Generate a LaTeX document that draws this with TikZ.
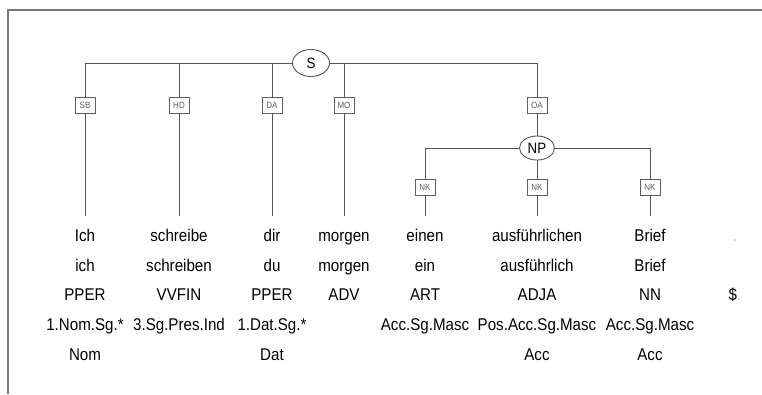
\documentclass[tikz,border=0pt]{standalone}
\usepackage{fontspec}
\setmainfont{Liberation Sans}[FakeStretch=0.89]
\usepackage{tikz}
\usetikzlibrary{shapes.geometric, positioning}
\definecolor{treegray}{RGB}{85,85,85}
\definecolor{framegray}{RGB}{120,120,120}
\definecolor{labgray}{RGB}{95,95,95}
\definecolor{dotgray}{RGB}{185,185,185}
\tikzset{
  catnode/.style={ellipse, draw=treegray, fill=white, line width=0.9pt,
    inner sep=1pt, font=\fontsize{15}{17}\selectfont},
  edgebox/.style={rectangle, draw=labgray, fill=white, line width=0.8pt,
    minimum width=20pt, minimum height=16pt, inner sep=1pt,
    text=labgray, font=\fontsize{9}{10}\selectfont},
  tok/.style={anchor=base, text height=12pt, text depth=3pt,
    font=\fontsize{17}{19}\selectfont},
  tree/.style={draw=treegray, line width=0.9pt},
  toword/.style={tree, shorten >=9pt},
  frameline/.style={draw=framegray, line width=1.3pt}
}

\begin{document}
\begin{tikzpicture}[x=1pt, y=-1pt]
  \useasboundingbox (0,0) rectangle (762,394);
  % frame (top and left only)
  \draw[frameline] (762,10) -- (8,10) -- (8,394);

  % --- Phrase nodes ---
  \node[catnode, minimum width=37pt, minimum height=27pt] (S) at (311,63) {S};
  \node[catnode, minimum width=35pt, minimum height=24pt] (NP) at (537,148) {NP};

  % --- Edge labels ---
  \node[edgebox] (e1) at (85,105) {SB};
  \node[edgebox] (e2) at (179,105) {HD};
  \node[edgebox] (e3) at (272,105) {DA};
  \node[edgebox] (e4) at (344,105) {MO};
  \node[edgebox] (e5) at (537,105) {OA};
  \node[edgebox] (e6) at (425,187) {NK};
  \node[edgebox] (e7) at (537,187) {NK};
  \node[edgebox] (e8) at (650,187) {NK};

  % --- Tokens ---
  % Ich
  \node[tok] (w1) at (85,241) {Ich};
  \node[tok] (l1) at (85,271) {ich};
  \node[tok] (p1) at (85,300) {PPER};
  \node[tok] (m1) at (85,330) {1.Nom.Sg.*};
  \node[tok] (c1) at (85,360) {Nom};

  % schreibe
  \node[tok] (w2) at (179,241) {schreibe};
  \node[tok] (l2) at (179,271) {schreiben};
  \node[tok] (p2) at (179,300) {VVFIN};
  \node[tok] (m2) at (179,330) {3.Sg.Pres.Ind};

  % dir
  \node[tok] (w3) at (272,241) {dir};
  \node[tok] (l3) at (272,271) {du};
  \node[tok] (p3) at (272,300) {PPER};
  \node[tok] (m3) at (272,330) {1.Dat.Sg.*};
  \node[tok] (c3) at (272,360) {Dat};

  % morgen
  \node[tok] (w4) at (344,241) {morgen};
  \node[tok] (l4) at (344,271) {morgen};
  \node[tok] (p4) at (344,300) {ADV};

  % einen
  \node[tok] (w5) at (425,241) {einen};
  \node[tok] (l5) at (425,271) {ein};
  \node[tok] (p5) at (425,300) {ART};
  \node[tok] (m5) at (425,330) {Acc.Sg.Masc};

  % ausfuehrlichen
  \node[tok] (w6) at (537,241) {ausführlichen};
  \node[tok] (l6) at (537,271) {ausführlich};
  \node[tok] (p6) at (537,300) {ADJA};
  \node[tok] (m6) at (537,330) {Pos.Acc.Sg.Masc};
  \node[tok] (c6) at (537,360) {Acc};

  % Brief
  \node[tok] (w7) at (650,241) {Brief};
  \node[tok] (l7) at (650,271) {Brief};
  \node[tok] (p7) at (650,300) {NN};
  \node[tok] (m7) at (650,330) {Acc.Sg.Masc};
  \node[tok] (c7) at (650,360) {Acc};

  % full stop
  \node[tok, text=dotgray] (w8) at (735,241) {.};
  \node[tok] (p8) at (735,300) {\$\textcolor{dotgray}{.}};

  % --- Connectors ---
  \draw[tree] (S) -| (e1);
  \draw[tree] (S) -| (e2);
  \draw[tree] (S) -| (e3);
  \draw[tree] (S) -| (e4);
  \draw[tree] (S) -| (e5);
  \draw[tree] (e5) -- (NP);
  \draw[tree] (NP) -| (e6);
  \draw[tree] (NP) -- (e7);
  \draw[tree] (NP) -| (e8);

  \draw[toword] (e1) -- (w1);
  \draw[toword] (e2) -- (w2);
  \draw[toword] (e3) -- (w3);
  \draw[toword] (e4) -- (w4);
  \draw[toword] (e6) -- (w5);
  \draw[toword] (e7) -- (w6);
  \draw[toword] (e8) -- (w7);
\end{tikzpicture}
\end{document}
